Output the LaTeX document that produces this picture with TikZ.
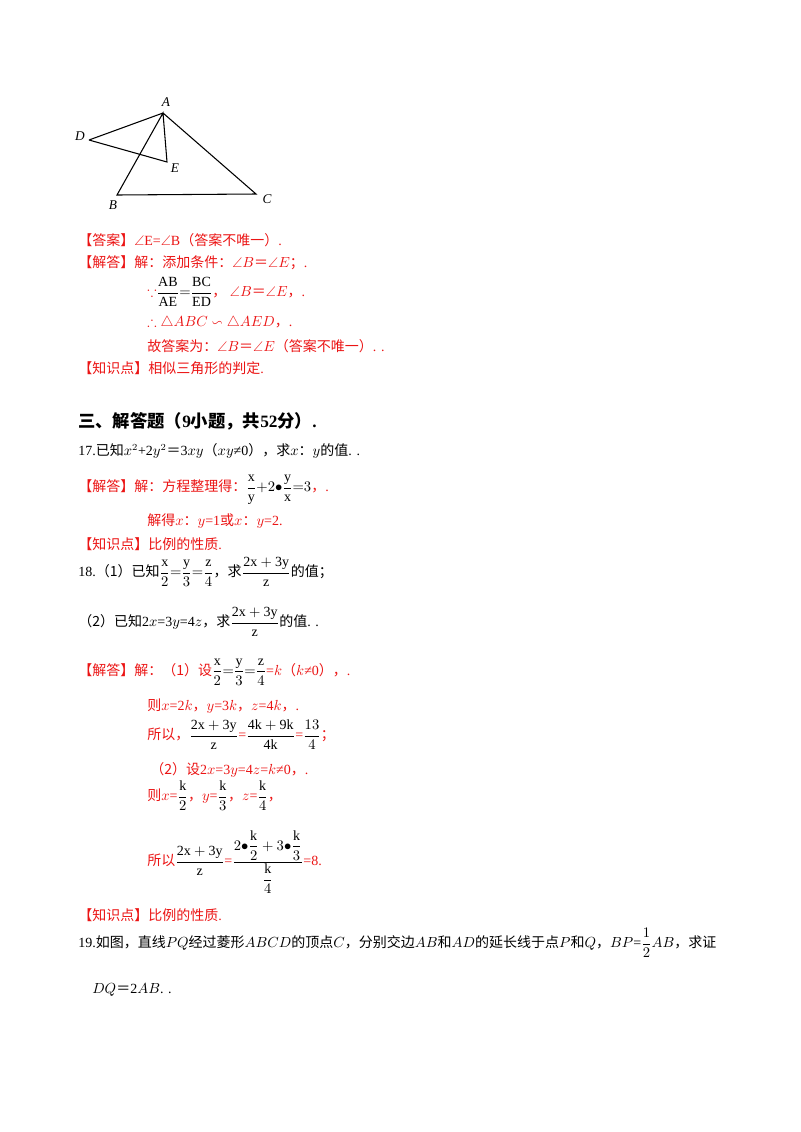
\documentclass[tikz,border=0pt]{standalone}
\usepackage{fontspec}
\usepackage{amsmath,amssymb}
\setmainfont{Liberation Serif}
\newfontfamily\zhf{Noto Sans CJK SC}
\newcommand{\zh}[1]{{\zhf #1}}
\definecolor{ans}{RGB}{235,20,20}
\begin{document}
\begin{tikzpicture}[x=0.75pt,y=-0.75pt,
  t/.style={anchor=west,inner sep=0pt,font=\fontsize{10.5}{12}\selectfont},
  r/.style={t,text=ans},
  lbl/.style={inner sep=0pt,font=\fontsize{10}{12}\selectfont\itshape},
  seg/.style={line width=0.8pt}]
\useasboundingbox (0,0) rectangle (800,1132);
\coordinate (A) at (163,113);
\coordinate (D) at (89,140);
\coordinate (E) at (167,162);
\coordinate (B) at (117,195);
\coordinate (C) at (256,194);
\draw[seg] (D)--(A)--(C)--(B)--(A)--(E)--(D);
\node[lbl] (lA) at (166,102) {A};
\node[lbl] (lD) at (80,136) {D};
\node[lbl] (lE) at (175,168) {E};
\node[lbl] (lB) at (113,205) {B};
\node[lbl] (lC) at (267,199) {C};

\node[r] (a1) at (78,240) {\zh{【答案】}$\angle$E=$\angle$B\zh{（答案不唯一）}.};
\node[r] (a2) at (78,263) {\zh{【解答】解：添加条件：}$\angle B$\zh{＝}$\angle E$\zh{；}.};
\node[r] (a3) at (147,292) {$\because$\textcolor{black}{$\dfrac{\mathrm{AB}}{\mathrm{AE}}{=}\dfrac{\mathrm{BC}}{\mathrm{ED}}$}\zh{，}\ $\angle B$\zh{＝}$\angle E$\zh{，}.};
\node[r] (a4) at (147,323) {$\therefore\triangle ABC\backsim\triangle AED$\zh{，}.};
\node[r] (a5) at (147,346) {\zh{故答案为：}$\angle B$\zh{＝}$\angle E$\zh{（答案不唯一）}. .};
\node[r] (a6) at (78,368) {\zh{【知识点】相似三角形的判定}.};

\node[t,font=\fontsize{13}{15}\selectfont\bfseries] (h3) at (78,421) {\zh{\bfseries 三、解答题（}9\zh{\bfseries 小题，共}52\zh{\bfseries 分）}.};
\node[t] (q17) at (78,451) {17.\zh{已知}$x^2$+2$y^2$\zh{＝}3$xy$\zh{（}$xy$≠0\zh{），求}$x$\zh{：}$y$\zh{的值}. .};
\node[r] (s17a) at (78,490) {\zh{【解答】解：方程整理得：}\textcolor{black}{$\dfrac{\mathrm{x}}{\mathrm{y}}{+}2{\bullet}\dfrac{\mathrm{y}}{\mathrm{x}}{=}3$}\zh{，}.};
\node[r] (s17b) at (147,521) {\zh{解得}$x$\zh{：}$y$=1\zh{或}$x$\zh{：}$y$=2.};
\node[r] (s17c) at (78,544) {\zh{【知识点】比例的性质}.};

\node[t] (q18a) at (78,572) {18.\zh{（1）已知}$\dfrac{\mathrm{x}}{2}{=}\dfrac{\mathrm{y}}{3}{=}\dfrac{\mathrm{z}}{4}$\zh{，求}$\dfrac{\mathrm{2x+3y}}{\mathrm{z}}$\zh{的值；}};
\node[t] (q18b) at (78,622) {\zh{（2）已知}2$x$=3$y$=4$z$\zh{，求}$\dfrac{\mathrm{2x+3y}}{\mathrm{z}}$\zh{的值}. .};
\node[r] (s18a) at (78,672) {\zh{【解答】解：（1）设}\textcolor{black}{$\dfrac{\mathrm{x}}{2}{=}\dfrac{\mathrm{y}}{3}{=}\dfrac{\mathrm{z}}{4}$}=$k$\zh{（}$k$≠0\zh{），}.};
\node[r] (s18b) at (147,706) {\zh{则}$x$=2$k$\zh{，}$y$=3$k$\zh{，}$z$=4$k$\zh{，}.};
\node[r] (s18c) at (147,735) {\zh{所以，}\textcolor{black}{$\dfrac{\mathrm{2x+3y}}{\mathrm{z}}$}=\textcolor{black}{$\dfrac{\mathrm{4k+9k}}{\mathrm{4k}}$}=\textcolor{black}{$\dfrac{13}{4}$}\zh{；}};
\node[r] (s18d) at (150,770) {\zh{（2）设}2$x$=3$y$=4$z$=$k$≠0\zh{，}.};
\node[r] (s18e) at (147,796) {\zh{则}$x$=\textcolor{black}{$\dfrac{\mathrm{k}}{2}$}\zh{，}$y$=\textcolor{black}{$\dfrac{\mathrm{k}}{3}$}\zh{，}$z$=\textcolor{black}{$\dfrac{\mathrm{k}}{4}$}\zh{，}};
\node[r] (s18f) at (147,862) {\zh{所以}\textcolor{black}{$\dfrac{\mathrm{2x+3y}}{\mathrm{z}}$}=\textcolor{black}{$\dfrac{2{\bullet}\dfrac{\mathrm{k}}{2}+3{\bullet}\dfrac{\mathrm{k}}{3}}{\dfrac{\mathrm{k}}{4}}$}=8.};
\node[r] (s18g) at (78,915) {\zh{【知识点】比例的性质}.};

\node[t] (q19a) at (78,943) {19.\zh{如图，直线}$PQ$\zh{经过菱形}$ABCD$\zh{的顶点}$C$\zh{，分别交边}$AB$\zh{和}$AD$\zh{的延长线于点}$P$\zh{和}$Q$\zh{，}$BP$=$\dfrac{1}{2}AB$\zh{，求证}};
\node[t] (q19b) at (92,990) {$DQ$\zh{＝}2$AB$. .};
\end{tikzpicture}
\end{document}
